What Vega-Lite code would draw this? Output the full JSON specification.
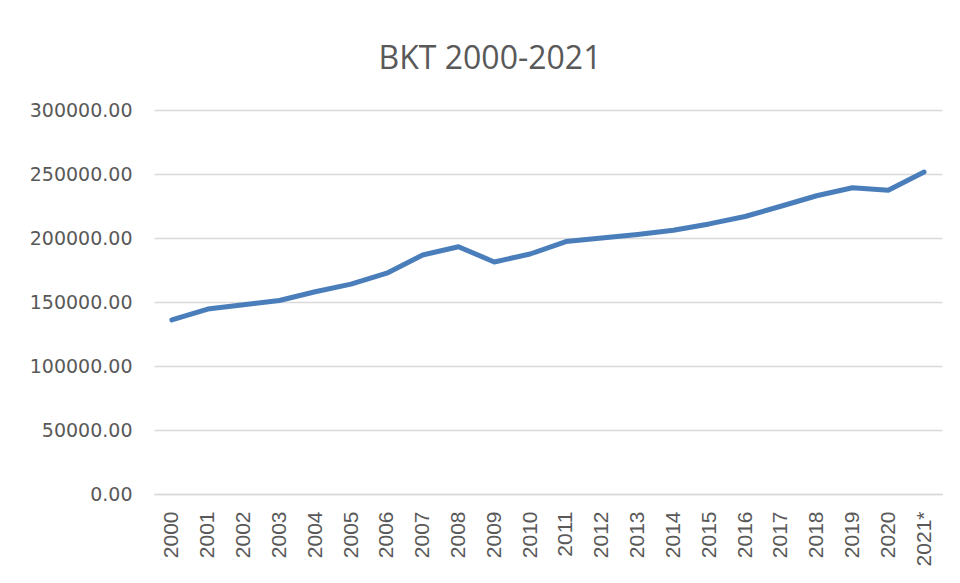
{
  "$schema": "https://vega.github.io/schema/vega-lite/v6.json",
  "width": 788,
  "height": 384,
  "autosize": {"type": "none"},
  "padding": {"left": 154, "top": 110, "right": 18, "bottom": 89},
  "background": "white",
  "title": {
    "text": "BKT 2000-2021",
    "font": "Open Sans",
    "fontSize": 32,
    "fontWeight": "normal",
    "color": "#595959",
    "anchor": "middle",
    "dx": -58,
    "offset": 25
  },
  "config": {"view": {"stroke": null}},
  "data": {
    "values": [
      {"year": "2000", "value": 136000},
      {"year": "2001", "value": 144500},
      {"year": "2002", "value": 147800},
      {"year": "2003", "value": 151200},
      {"year": "2004", "value": 158000},
      {"year": "2005", "value": 164000},
      {"year": "2006", "value": 172500},
      {"year": "2007", "value": 186700},
      {"year": "2008", "value": 193200},
      {"year": "2009", "value": 181300},
      {"year": "2010", "value": 187500},
      {"year": "2011", "value": 197200},
      {"year": "2012", "value": 200000},
      {"year": "2013", "value": 202800},
      {"year": "2014", "value": 206000},
      {"year": "2015", "value": 211000},
      {"year": "2016", "value": 216800},
      {"year": "2017", "value": 224800},
      {"year": "2018", "value": 233000},
      {"year": "2019", "value": 239300},
      {"year": "2020", "value": 237300},
      {"year": "2021*", "value": 251500}
    ]
  },
  "mark": {"type": "line", "color": "#4a7ebb", "strokeWidth": 5, "strokeCap": "round", "strokeJoin": "round"},
  "encoding": {
    "x": {
      "field": "year",
      "type": "ordinal",
      "sort": null,
      "scale": {"padding": 0.5},
      "axis": {
        "title": null,
        "labelAngle": -90,
        "labelAlign": "right",
        "labelBaseline": "middle",
        "labelFont": "Liberation Sans",
        "labelFontSize": 21,
        "labelColor": "#595959",
        "labelPadding": 17,
        "ticks": false,
        "domainColor": "#d9d9d9",
        "domainWidth": 1.5,
        "grid": false
      }
    },
    "y": {
      "field": "value",
      "type": "quantitative",
      "scale": {"domain": [0, 300000], "nice": false},
      "axis": {
        "title": null,
        "values": [0, 50000, 100000, 150000, 200000, 250000, 300000],
        "format": ".2f",
        "labelFont": "DejaVu Sans",
        "labelFontSize": 19,
        "labelColor": "#595959",
        "labelPadding": 22,
        "ticks": false,
        "domain": false,
        "gridColor": "#d9d9d9",
        "gridWidth": 1.5
      }
    }
  }
}
